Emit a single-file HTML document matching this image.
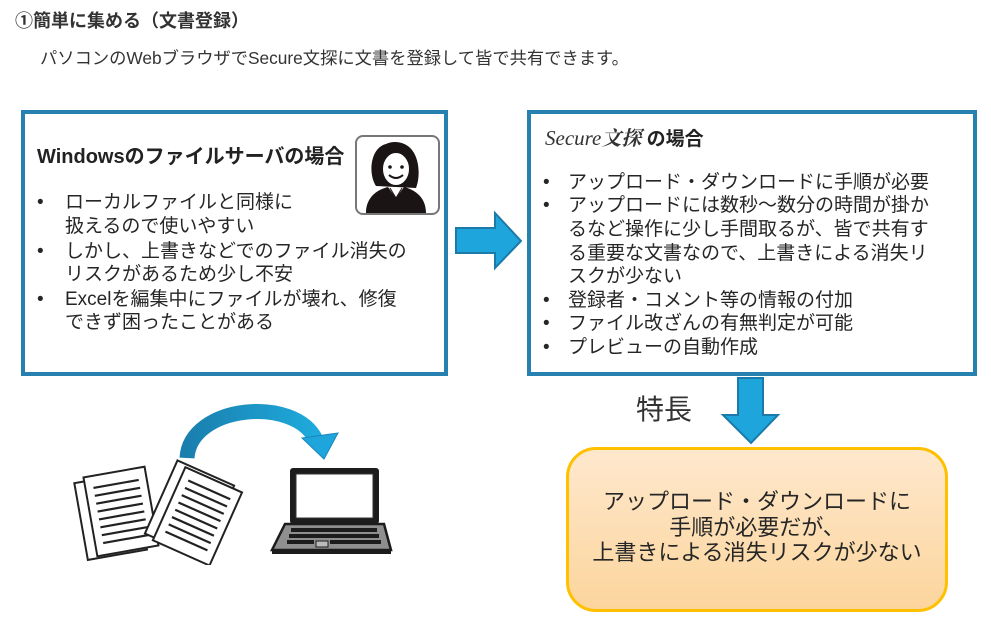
<!DOCTYPE html>
<html><head><meta charset="utf-8">
<style>
html,body{margin:0;padding:0;background:#fff;}
body{width:991px;height:621px;position:relative;overflow:hidden;font-family:"Liberation Sans","Noto Sans CJK JP",sans-serif;color:#222;}
.abs{position:absolute;white-space:nowrap;}
.box{position:absolute;box-sizing:border-box;border:4px solid #2680b0;background:#fff;}
.ln{position:absolute;white-space:nowrap;font-size:19px;line-height:24px;color:#262626;}
.bul{position:absolute;font-size:19px;line-height:24px;color:#262626;}
</style></head>
<body>
<div class="abs" style="left:15px;top:9px;font-size:18px;font-weight:bold;line-height:24px;color:#333;">①簡単に集める（文書登録）</div>
<div class="abs" style="left:40px;top:46px;font-size:17.3px;line-height:24px;color:#333;">パソコンのWebブラウザでSecure文探に文書を登録して皆で共有できます。</div>

<!-- left box -->
<div class="box" style="left:21px;top:110px;width:427px;height:266px;"></div>
<div class="abs" style="left:37px;top:144px;font-size:20px;font-weight:bold;line-height:26px;color:#222;">Windowsのファイルサーバの場合</div>
<!-- avatar -->
<svg class="abs" style="left:354px;top:134px;" width="88" height="83" viewBox="0 0 88 83">
<rect x="2" y="2" width="83" height="78" rx="7" fill="#fff" stroke="#777" stroke-width="2"/>
<path d="M22,52 C14,40 16,14 32,10 C40,6 52,8 58,16 C66,26 66,44 62,54 Z" fill="#1a1414"/>
<ellipse cx="42" cy="35" rx="14" ry="17" fill="#fff" stroke="#1a1414" stroke-width="2"/>
<path d="M27,30 C30,18 42,16 48,20 C52,24 56,26 58,30 C56,18 48,12 40,13 C32,14 26,20 27,30 Z" fill="#1a1414"/>
<circle cx="36" cy="33" r="1.8" fill="#1a1414"/><circle cx="48" cy="33" r="1.8" fill="#1a1414"/>
<path d="M35,41 Q42,47 49,41" fill="none" stroke="#1a1414" stroke-width="2"/>
<path d="M12,79 C12,64 22,56 34,53 L42,64 L50,53 C62,56 72,64 72,79 Z" fill="#1a1414"/>
<path d="M36,54 L42,64 L48,54" fill="#fff" stroke="#1a1414" stroke-width="1"/>
</svg>
<div class="bul" style="left:37px;top:191px;">•</div>
<div class="ln" style="left:65px;top:191px;">ローカルファイルと同様に</div>
<div class="ln" style="left:65px;top:215px;">扱えるので使いやすい</div>
<div class="bul" style="left:37px;top:240px;">•</div>
<div class="ln" style="left:65px;top:240px;">しかし、上書きなどでのファイル消失の</div>
<div class="ln" style="left:65px;top:263px;">リスクがあるため少し不安</div>
<div class="bul" style="left:37px;top:288px;">•</div>
<div class="ln" style="left:65px;top:288px;">Excelを編集中にファイルが壊れ、修復</div>
<div class="ln" style="left:65px;top:311px;">できず困ったことがある</div>

<!-- right arrow -->
<svg class="abs" style="left:450px;top:208px;" width="80" height="66">
<polygon points="6,20 45,20 45,5 71,33 45,60 45,45 6,45" fill="#1ea6dc" stroke="#1b7aa9" stroke-width="2"/>
</svg>

<!-- right box -->
<div class="box" style="left:527px;top:110px;width:450px;height:266px;"></div>
<div class="abs" style="left:545px;top:124px;line-height:26px;">
<span style="font-family:'Liberation Serif',serif;font-style:italic;font-size:21px;color:#333;">Secure</span><span style="font-family:'Noto Serif CJK SC','Liberation Serif',serif;font-style:italic;font-weight:bold;font-size:20px;color:#333;">文探</span><span style="font-size:19px;font-weight:bold;color:#222;"> の場合</span>
</div>
<div class="bul" style="left:543px;top:171px;">•</div>
<div class="ln" style="left:568px;top:171px;">アップロード・ダウンロードに手順が必要</div>
<div class="bul" style="left:543px;top:194px;">•</div>
<div class="ln" style="left:568px;top:194px;">アップロードには数秒～数分の時間が掛か</div>
<div class="ln" style="left:568px;top:218px;">るなど操作に少し手間取るが、皆で共有す</div>
<div class="ln" style="left:568px;top:242px;">る重要な文書なので、上書きによる消失リ</div>
<div class="ln" style="left:568px;top:265px;">スクが少ない</div>
<div class="bul" style="left:543px;top:289px;">•</div>
<div class="ln" style="left:568px;top:289px;">登録者・コメント等の情報の付加</div>
<div class="bul" style="left:543px;top:312px;">•</div>
<div class="ln" style="left:568px;top:312px;">ファイル改ざんの有無判定が可能</div>
<div class="bul" style="left:543px;top:336px;">•</div>
<div class="ln" style="left:568px;top:336px;">プレビューの自動作成</div>

<!-- down arrow -->
<svg class="abs" style="left:718px;top:376px;" width="66" height="72">
<polygon points="20,2 45,2 45,39 60,39 33,67 5,39 20,39" fill="#1ea6dc" stroke="#1b7aa9" stroke-width="2"/>
</svg>
<div class="abs" style="left:636px;top:391px;font-size:28px;line-height:38px;color:#333;">特長</div>

<!-- orange box -->
<div style="position:absolute;left:566px;top:447px;width:382px;height:165px;box-sizing:border-box;border:3px solid #ffc000;border-radius:30px;background:linear-gradient(#fee8cd,#fcd59c);"></div>
<div class="abs" style="left:566px;top:489px;width:382px;text-align:center;font-size:22px;line-height:25.5px;color:#262626;">アップロード・ダウンロードに<br>手順が必要だが、<br>上書きによる消失リスクが少ない</div>

<!-- bottom illustration -->
<svg class="abs" style="left:60px;top:390px;" width="340" height="175" viewBox="60 390 340 175">
<defs><linearGradient id="ag" x1="0" x2="1" y1="0" y2="0"><stop offset="0" stop-color="#1a7fae"/><stop offset="1" stop-color="#1eaadc"/></linearGradient></defs>
<path d="M187,458 C190,405 295,395 316,440" fill="none" stroke="url(#ag)" stroke-width="15"/>
<polygon points="302,438 338,433 324,459" fill="#1ea6dc" stroke="#1b86b8" stroke-width="1"/>
<!-- left doc stack -->
<g transform="rotate(-10 118 512)">
<rect x="80" y="476" width="60" height="78" fill="#fff" stroke="#222" stroke-width="2"/>
<rect x="90" y="472" width="62" height="80" fill="#fff" stroke="#222" stroke-width="2"/>
<g stroke="#222" stroke-width="2.2">
<line x1="98" y1="484" x2="144" y2="484"/><line x1="98" y1="492" x2="144" y2="492"/><line x1="98" y1="500" x2="144" y2="500"/>
<line x1="98" y1="508" x2="144" y2="508"/><line x1="98" y1="516" x2="144" y2="516"/><line x1="98" y1="524" x2="144" y2="524"/>
<line x1="98" y1="532" x2="144" y2="532"/><line x1="98" y1="540" x2="144" y2="540"/>
</g></g>
<!-- right doc stack -->
<g transform="rotate(24 195 512)">
<rect x="158" y="472" width="62" height="80" fill="#fff" stroke="#222" stroke-width="2"/>
<rect x="168" y="475" width="62" height="80" fill="#fff" stroke="#222" stroke-width="2"/>
<g stroke="#222" stroke-width="2.2">
<line x1="176" y1="486" x2="222" y2="486"/><line x1="176" y1="494" x2="222" y2="494"/><line x1="176" y1="502" x2="222" y2="502"/>
<line x1="176" y1="510" x2="222" y2="510"/><line x1="176" y1="518" x2="222" y2="518"/><line x1="176" y1="526" x2="222" y2="526"/>
<line x1="176" y1="534" x2="222" y2="534"/><line x1="176" y1="542" x2="222" y2="542"/>
</g></g>
<!-- laptop -->
<rect x="290" y="468" width="89" height="56" rx="3" fill="#1c1c1c"/>
<rect x="296" y="474" width="77" height="44" fill="#fff" stroke="#333" stroke-width="1"/>
<polygon points="285,524 384,524 391,550 272,550" fill="#8f8f8f" stroke="#1c1c1c" stroke-width="2.5"/>
<rect x="272" y="549" width="119" height="5" fill="#1c1c1c"/>
<g fill="#1c1c1c">
<rect x="291" y="528" width="86" height="4"/>
<rect x="289" y="534" width="90" height="4"/>
<rect x="287" y="540" width="27" height="4"/><rect x="330" y="540" width="51" height="4"/>
<rect x="316" y="541" width="12" height="6" fill="#bbb" stroke="#1c1c1c" stroke-width="1"/>
</g>
</svg>
</body></html>
